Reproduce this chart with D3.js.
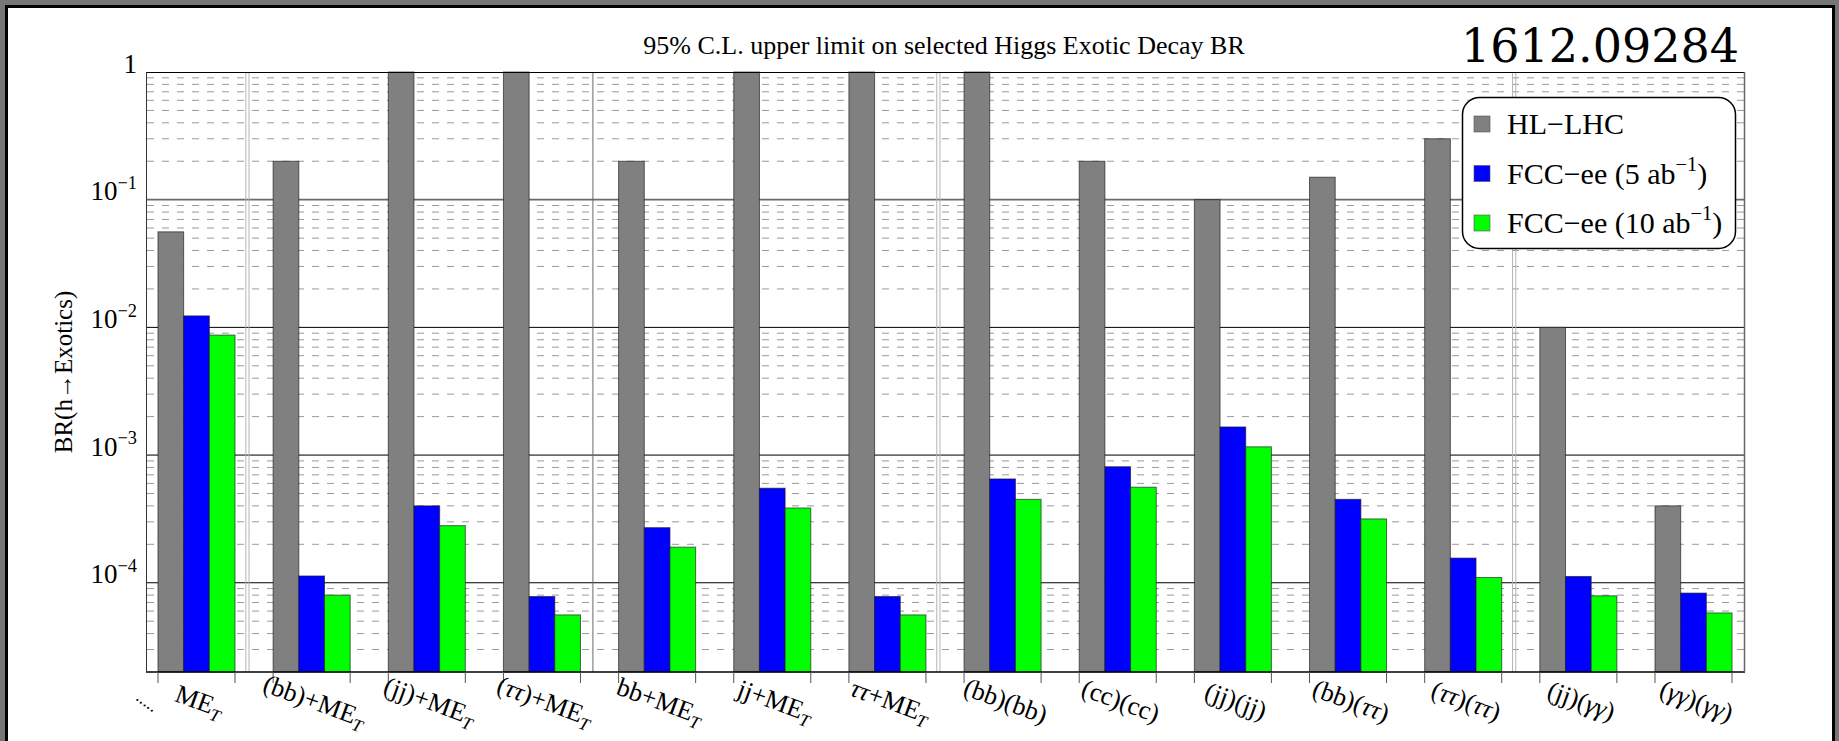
<!DOCTYPE html>
<html>
<head>
<meta charset="utf-8">
<script src="https://cdn.jsdelivr.net/npm/d3@7"></script>
<style>
  html, body { margin: 0; padding: 0; background: #767676; }
  svg { display: block; }
</style>
</head>
<body>
<div id="chart"></div>
<script>
// values (log scale, so rough to ~5%)
const categories = ['ME_{T}', '(bb)+ME_{T}', '(jj)+ME_{T}', '(ττ)+ME_{T}', 'bb+ME_{T}', 'jj+ME_{T}', 'ττ+ME_{T}',
  '(bb)(bb)', '(cc)(cc)', '(jj)(jj)', '(bb)(ττ)', '(ττ)(ττ)', '(jj)(γγ)', '(γγ)(γγ)'];
const seriesNames = ['HL−LHC', 'FCC−ee (5 ab^{−1})', 'FCC−ee (10 ab^{−1})'];
const seriesColors = ['#808080', '#0000ff', '#00ff00'];
const hlLhc = [0.056, 0.2, 1, 1, 0.2, 1, 1, 1, 0.2, 0.1, 0.15, 0.3, 0.01, 0.0004];
const fcc5 = [0.0123, 1.13e-4, 4.0e-4, 7.8e-5, 2.7e-4, 5.5e-4, 7.8e-5, 6.5e-4, 8.1e-4, 1.66e-3, 4.5e-4, 1.56e-4, 1.12e-4, 8.3e-5];
const fcc10 = [8.7e-3, 8.0e-5, 2.8e-4, 5.6e-5, 1.9e-4, 3.85e-4, 5.6e-5, 4.5e-4, 5.6e-4, 1.16e-3, 3.16e-4, 1.1e-4, 7.9e-5, 5.8e-5];
const yTicks = [1, 1e-1, 1e-2, 1e-3, 1e-4];
const yDomain = [2e-5, 1];
// categories that get a vertical divider in front of them
const dividers = [{cat: 1, kind: 'double'}, {cat: 4, kind: 'single'}, {cat: 7, kind: 'double'}, {cat: 12, kind: 'double'}];
const titleText = '95% C.L. upper limit on selected Higgs Exotic Decay BR';
const yTitle = 'BR(h→Exotics)';
const refText = '1612.09284';

const SERIF = '"Liberation Serif", "Times New Roman", serif';

// tiny latex-ish helper: ^{..} superscript, _{..} subscript, greek in italics
function richText(textSel, str, size) {
  const parts = str.split(/(\^\{[^}]*\}|_\{[^}]*\}|[τγ]+)/).filter(s => s.length);
  let shift = 0;
  parts.forEach(p => {
    let content = p, dy = 0, fs = size, italic = false;
    if (p.startsWith('^{')) {
      content = p.slice(2, -1); dy = -0.42 * size; fs = 0.68 * size;
    } else if (p.startsWith('_{')) {
      content = p.slice(2, -1); dy = 0.22 * size; fs = 0.68 * size; italic = true;
    } else if (/[τγ]/.test(p)) {
      italic = true;
    }
    const t = textSel.append('tspan').text(content).attr('font-size', fs).attr('dy', dy - shift);
    if (italic) t.attr('font-style', 'italic');
    shift = dy;
  });
}

class ExoticDecayChart {
  constructor(selector, w, h) {
    this.w = w;
    this.h = h;
    this.left = 146;
    this.right = 1744;
    this.top = 72;
    this.bottom = 672;
    this.svg = d3.select(selector).html('')
      .append('svg')
      .attr('width', this.w)
      .attr('height', this.h);
    this.x = d3.scaleBand().domain(categories).range([this.left, this.right])
      .paddingInner(0.331).paddingOuter(0.104);
    this.xs = d3.scaleBand().domain(seriesNames).range([0, this.x.bandwidth()]);
    this.y = d3.scaleLog().domain(yDomain).range([this.bottom, this.top]);
    this.series = [hlLhc, fcc5, fcc10];
  }

  draw() {
    this.drawPanel();
    this.drawGrid();
    this.drawBars();
    this.drawFrame();
    this.drawAxes();
    this.drawLegend();
    this.drawTexts();
  }

  drawPanel() {
    this.svg.append('rect')
      .attr('width', this.w).attr('height', this.h)
      .attr('fill', '#767676');
    this.svg.append('rect')
      .attr('x', 6.5).attr('y', 6.5)
      .attr('width', 1827).attr('height', this.h + 20)
      .attr('fill', '#fff')
      .attr('stroke', '#000')
      .attr('stroke-width', 3);
  }

  drawGrid() {
    const g = this.svg.append('g').attr('class', 'grid');
    const minor = [];
    for (let k = -5; k <= -1; k++) {
      for (let m = 2; m <= 9; m++) {
        const v = m * Math.pow(10, k);
        if (v > yDomain[0] * 1.0001 && v < yDomain[1]) minor.push(v);
      }
    }
    g.selectAll('line.minor').data(minor).enter().append('line')
      .attr('class', 'minor')
      .attr('x1', this.left + 1).attr('x2', this.right)
      .attr('y1', d => this.y(d)).attr('y2', d => this.y(d))
      .attr('stroke', '#9a9a9a')
      .attr('stroke-width', 1)
      .attr('stroke-dasharray', '7,8');

    g.selectAll('line.major').data(yTicks.slice(1)).enter().append('line')
      .attr('class', 'major')
      .attr('x1', this.left).attr('x2', this.right)
      .attr('y1', d => this.y(d)).attr('y2', d => this.y(d))
      .attr('stroke', d => Math.round(Math.log10(d)) % 2 === 0 ? '#000' : '#6a6a6a')
      .attr('stroke-width', d => Math.round(Math.log10(d)) % 2 === 0 ? 1 : 1.8);

    const bw = this.xs.bandwidth();
    dividers.forEach(dv => {
      const px = this.x(categories[dv.cat]) - bw;
      const offs = dv.kind === 'double' ? [-1.6, 1.6] : [0];
      offs.forEach(o => {
        g.append('line')
          .attr('x1', px + o).attr('x2', px + o)
          .attr('y1', this.top).attr('y2', this.bottom)
          .attr('stroke', dv.kind === 'double' ? '#b4b4b4' : '#6a6a6a')
          .attr('stroke-width', 1);
      });
    });
  }

  drawBars() {
    const groups = this.svg.append('g').attr('class', 'bars')
      .selectAll('g').data(categories).enter().append('g')
      .attr('transform', d => 'translate(' + this.x(d) + ',0)');
    groups.selectAll('rect')
      .data((d, i) => this.series.map((s, j) => ({name: seriesNames[j], color: seriesColors[j], value: s[i]})))
      .enter().append('rect')
      .attr('x', d => this.xs(d.name))
      .attr('y', d => this.y(d.value))
      .attr('width', this.xs.bandwidth())
      .attr('height', d => this.bottom - this.y(d.value))
      .attr('fill', d => d.color)
      .attr('stroke', '#1a1a1a')
      .attr('stroke-opacity', 0.65)
      .attr('stroke-width', 1);
  }

  drawFrame() {
    const g = this.svg.append('g').attr('class', 'frame');
    g.append('line').attr('x1', this.left).attr('x2', this.right).attr('y1', this.top + 0.5).attr('y2', this.top + 0.5)
      .attr('stroke', '#000');
    g.append('line').attr('x1', this.left).attr('x2', this.right + 1).attr('y1', this.bottom).attr('y2', this.bottom)
      .attr('stroke', '#000').attr('stroke-width', 1.5);
    g.append('line').attr('x1', this.left + 0.5).attr('x2', this.left + 0.5).attr('y1', this.top).attr('y2', this.bottom)
      .attr('stroke', '#333');
    g.append('line').attr('x1', this.right + 0.5).attr('x2', this.right + 0.5).attr('y1', this.top).attr('y2', this.bottom)
      .attr('stroke', '#666').attr('stroke-width', 1.5);

    // ticks sit at both edges of every group
    const edges = [];
    categories.forEach(c => { edges.push(this.x(c)); edges.push(this.x(c) + this.x.bandwidth()); });
    g.selectAll('line.xtick').data(edges).enter().append('line')
      .attr('class', 'xtick')
      .attr('x1', d => d).attr('x2', d => d)
      .attr('y1', this.bottom).attr('y2', this.bottom + 11)
      .attr('stroke', '#555');
  }

  drawAxes() {
    const yAxis = this.svg.append('g')
      .attr('transform', 'translate(' + this.left + ',0)')
      .call(d3.axisLeft(this.y).tickValues(yTicks).tickSize(0).tickPadding(9).tickFormat(() => ''));
    yAxis.select('.domain').remove();
    yAxis.attr('font-family', SERIF).attr('font-size', 27);
    yAxis.selectAll('.tick text').each(function(d) {
      const e = Math.round(Math.log10(d));
      const t = d3.select(this).attr('fill', '#000');
      richText(t, e === 0 ? '1' : '10^{−' + (-e) + '}', 27);
    });

    const xAxis = this.svg.append('g')
      .attr('transform', 'translate(0,' + this.bottom + ')')
      .call(d3.axisBottom(this.x).tickSize(0).tickPadding(0).tickFormat(() => ''));
    xAxis.select('.domain').remove();
    xAxis.attr('font-family', SERIF).attr('font-size', 26);
    xAxis.selectAll('.tick text').each(function(d) {
      const t = d3.select(this)
        .attr('fill', '#000')
        .attr('y', 0).attr('dy', 0)
        .attr('text-anchor', 'middle')
        .attr('transform', 'translate(0,37) rotate(20)');
      richText(t, d, 26);
    });

    // the empty leading bin label
    this.svg.append('text')
      .attr('transform', 'translate(' + (this.left - 2) + ',' + (this.bottom + 34) + ') rotate(37)')
      .attr('text-anchor', 'middle')
      .attr('font-family', SERIF)
      .attr('font-size', 18)
      .text('.....');

    this.svg.append('text')
      .attr('transform', 'translate(72,' + ((this.top + this.bottom) / 2) + ') rotate(-90)')
      .attr('text-anchor', 'middle')
      .attr('font-family', SERIF)
      .attr('font-size', 25)
      .text(yTitle);
  }

  drawLegend() {
    const lg = this.svg.append('g').attr('transform', 'translate(1462,97)');
    lg.append('rect')
      .attr('x', 0.5).attr('y', 0.5)
      .attr('width', 273).attr('height', 151)
      .attr('rx', 17).attr('ry', 17)
      .attr('fill', '#fff')
      .attr('stroke', '#000')
      .attr('stroke-width', 1.5);
    const rowY = d3.scalePoint().domain(seriesNames).range([27, 126]);
    const rows = lg.selectAll('g.row').data(seriesNames).enter().append('g')
      .attr('class', 'row')
      .attr('transform', d => 'translate(0,' + rowY(d) + ')');
    rows.append('rect')
      .attr('x', 12).attr('y', -8)
      .attr('width', 16).attr('height', 16)
      .attr('fill', (d, i) => seriesColors[i])
      .attr('stroke', '#555')
      .attr('stroke-opacity', 0.6);
    rows.append('text')
      .attr('x', 45).attr('y', 10)
      .attr('font-family', SERIF)
      .attr('font-size', 30)
      .each(function(d) { richText(d3.select(this), d, 30); });
  }

  drawTexts() {
    this.svg.append('text')
      .attr('x', 944).attr('y', 54)
      .attr('text-anchor', 'middle')
      .attr('font-family', SERIF)
      .attr('font-size', 26)
      .text(titleText);
    this.svg.append('text')
      .attr('x', 1739).attr('y', 62)
      .attr('text-anchor', 'end')
      .attr('font-family', '"DejaVu Serif", serif')
      .attr('font-size', 46)
      .text(refText);
  }
}

const chart = new ExoticDecayChart('#chart', 1839, 741);
chart.draw();
</script>
</body>
</html>
